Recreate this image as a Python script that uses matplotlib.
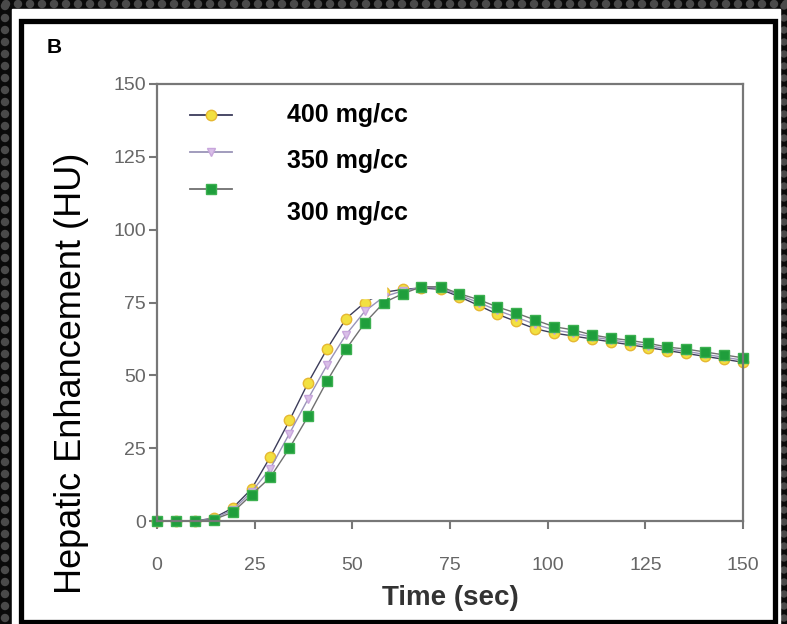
import matplotlib.pyplot as plt
from matplotlib.patches import Rectangle, Circle
from matplotlib.lines import Line2D

# time points (sec)
time = [0, 4.8, 9.7, 14.5, 19.4, 24.2, 29.0, 33.9, 38.7, 43.5, 48.4, 53.2,
        58.1, 62.9, 67.7, 72.6, 77.4, 82.3, 87.1, 91.9, 96.8, 101.6, 106.5,
        111.3, 116.1, 121.0, 125.8, 130.6, 135.5, 140.3, 145.2, 150.0]

# hepatic enhancement (HU) per iodine concentration
hu_400 = [0, 0, 0, 1, 4.5, 11, 22, 34.5, 47.5, 59, 69.5, 75,
          78.5, 79.5, 80, 79.5, 77, 74, 71, 68.5, 66, 64.5, 63.5,
          62.5, 61.5, 60.5, 59.5, 58.5, 57.5, 56.5, 55.5, 54.5]
hu_350 = [0, 0, 0, 0.8, 3.8, 10, 18, 30, 42, 53.5, 64, 72,
          77, 79, 80.2, 80, 77.5, 75, 72.3, 70, 67.5, 65.6, 64.5,
          63.2, 62.2, 61.2, 60.2, 59.1, 58.2, 57.2, 56.2, 55.2]
hu_300 = [0, 0, 0, 0.5, 3, 9, 15, 25, 36, 48, 59, 68,
          75, 78, 80.4, 80.4, 78, 76, 73.5, 71.4, 69, 66.7, 65.6,
          63.9, 62.8, 62, 61, 59.7, 59, 58, 57, 56]

labels = ['400 mg/cc', '350 mg/cc', '300 mg/cc']

plt.rcParams['font.family'] = ['Liberation Sans', 'DejaVu Sans']

W, H = 787, 624
fig = plt.figure(figsize=(W / 100, H / 100), dpi=100, facecolor='#0a0a0a')

# decorative background (pixel coordinates)
bg = fig.add_axes([0, 0, 1, 1], zorder=0)
bg.set_xlim(0, W)
bg.set_ylim(H, 0)
bg.axis('off')
for x in range(6, W, 12):
    bg.add_patch(Circle((x, 4), 3.5, color='#4a4a4a'))
for y in range(6, H, 12):
    bg.add_patch(Circle((5, y), 3.5, color='#4a4a4a'))
    bg.add_patch(Circle((W - 3, y), 3, color='#4a4a4a'))
bg.add_patch(Rectangle((12, 9), W - 19, H - 9, color='white'))
bg.add_patch(Rectangle((20.5, 20.5), W - 33, H - 23, fill=False,
                       edgecolor='black', linewidth=3.8))

ax = fig.add_axes([157 / W, 103 / H, 586 / W, 437 / H], zorder=1)
ax.patch.set_alpha(0)

styles = [
    dict(color='#3c3c5a', marker='o', ms=7.5, mfc='#f2e040', mec='#e6b832'),
    dict(color='#9a94b8', marker='v', ms=6, mfc='#d9bfe8', mec='#c8a6dc'),
    dict(color='#707070', marker='s', ms=6.5, mfc='#1f9e3c', mec='#3cb050'),
]
for vals, st in zip([hu_400, hu_350, hu_300], styles):
    ax.plot(time, vals, lw=1, clip_on=False, **st)

ax.set_xlim(0, 150)
ax.set_ylim(0, 150)
ax.set_xticks(range(0, 151, 25))
ax.set_yticks(range(0, 151, 25))
for s in ax.spines.values():
    s.set_color('#777777')
    s.set_linewidth(1.6)
ax.tick_params(direction='out', length=6, width=1.5, color='#777777',
               labelcolor='#666666', labelsize=14)
ax.tick_params(axis='x', pad=20)
ax.tick_params(axis='y', pad=2)

ax.set_xlabel('Time (sec)', fontsize=20, fontweight='bold', color='#333333',
              labelpad=8)
fig.text(72 / W, 1 - 373 / H, 'Hepatic Enhancement (HU)', rotation=90,
         fontsize=26, ha='center', va='center', color='black')
fig.text(47 / W, 1 - 53 / H, 'B', fontsize=15, fontweight='bold')

# legend box (white background, no border) with handles and labels
ax.add_patch(Rectangle((0.02, 0.51), 0.371, 0.47, transform=ax.transAxes,
                       color='white', zorder=5))
handle_y = [0.929, 0.844, 0.760]
label_y = [0.929, 0.824, 0.705]
for st, hy, ly, lab in zip(styles, handle_y, label_y, labels):
    ax.add_line(Line2D([0.056, 0.128], [hy, hy], transform=ax.transAxes,
                       color=st['color'], lw=1.3, zorder=6))
    ax.add_line(Line2D([0.092], [hy], transform=ax.transAxes, ls='none',
                       marker=st['marker'], ms=st['ms'], mfc=st['mfc'],
                       mec=st['mec'], zorder=7))
    ax.text(0.222, ly, lab, transform=ax.transAxes, fontsize=18,
            fontweight='bold', va='center', zorder=7)

fig.savefig('out.png', dpi=100, facecolor=fig.get_facecolor())
